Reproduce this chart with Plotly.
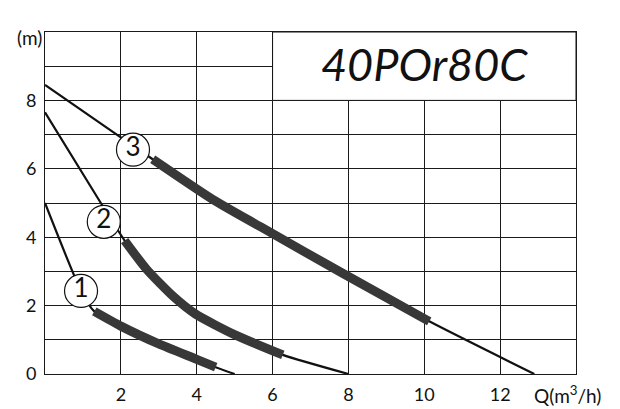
import plotly.graph_objects as go

# ---- data ----
curve1_x = [0, 0.95, 1.3, 2.0, 3.0, 4.0, 4.5, 5.0]
curve1_y = [5.0, 2.43, 1.83, 1.4, 0.88, 0.43, 0.2, 0.0]
curve1_thick = (2, 6)

curve2_x = [0, 1.5, 2.1, 2.68, 3.39, 3.97, 5.04, 6.27, 8.0]
curve2_y = [7.65, 4.95, 3.9, 3.06, 2.26, 1.75, 1.13, 0.56, 0.0]
curve2_thick = (2, 7)

curve3_x = [0, 1.96, 2.84, 4.43, 5.69, 7.87, 10.13, 12.9]
curve3_y = [8.45, 6.95, 6.28, 5.1, 4.3, 2.93, 1.54, 0.0]
curve3_thick = (2, 6)

label_names = ["1", "2", "3"]
label_x = [0.95, 1.55, 2.32]
label_y = [2.43, 4.45, 6.56]

x_tickvals = [0, 2, 4, 6, 8, 10, 12, 14]
x_ticktext = [" ", "2", "4", "6", "8", "10", "12", " "]
y_tickvals = [0, 1, 2, 3, 4, 5, 6, 7, 8, 9, 10]
y_ticktext = ["0", " ", "2", " ", "4", " ", "6", " ", "8", " ", " "]

title_text = "40POr80C"
font_family = "Lato, 'DejaVu Sans', sans-serif"

fig = go.Figure()

curves = [(curve1_x, curve1_y, curve1_thick),
          (curve2_x, curve2_y, curve2_thick),
          (curve3_x, curve3_y, curve3_thick)]

for cx, cy, (i0, i1) in curves:
    fig.add_trace(go.Scatter(x=cx, y=cy, mode="lines",
                             line=dict(color="#111111", width=2.2, shape="spline", smoothing=0.6),
                             hoverinfo="skip", showlegend=False))
    fig.add_trace(go.Scatter(x=cx[i0:i1 + 1], y=cy[i0:i1 + 1], mode="lines",
                             line=dict(color="#383838", width=9, shape="spline", smoothing=0.6),
                             hoverinfo="skip", showlegend=False))

fig.add_trace(go.Scatter(x=label_x, y=label_y, mode="markers+text", text=label_names,
                         textposition="middle center",
                         textfont=dict(size=26, color="#111111", family=font_family),
                         marker=dict(size=33, color="white", line=dict(color="#111111", width=1.2)),
                         hoverinfo="skip", showlegend=False))

# white title box covering the grid
fig.add_shape(type="rect", x0=6, x1=14, y0=8, y1=10, xref="x", yref="y",
              fillcolor="white", line=dict(color="#111111", width=1), layer="between")

fig.add_annotation(x=10, y=9.05, xref="x", yref="y", text="<i>" + title_text + "</i>",
                   showarrow=False, font=dict(size=45, color="#111111", family=font_family))

fig.add_annotation(x=0, y=9.85, xref="paper", yref="y", text="(m)", showarrow=False,
                   xanchor="right", yanchor="middle", xshift=-1,
                   font=dict(size=19, color="#111111", family=font_family))

fig.add_annotation(x=1.0, y=0, xref="paper", yref="paper", text="Q(m<sup>3</sup>/h)",
                   showarrow=False, xanchor="left", yanchor="top", xshift=-44, yshift=-6,
                   font=dict(size=19, color="#111111", family=font_family))

fig.update_xaxes(range=[0, 14], tickvals=x_tickvals, ticktext=x_ticktext,
                 showgrid=True, gridcolor="#1a1a1a", gridwidth=1,
                 zeroline=False, showline=True, linecolor="#1a1a1a", linewidth=1, mirror=True,
                 ticks="outside", ticklen=4, tickcolor="rgba(0,0,0,0)",
                 tickfont=dict(size=18, color="#111111", family=font_family))
fig.update_yaxes(range=[0, 10], tickvals=y_tickvals, ticktext=y_ticktext,
                 showgrid=True, gridcolor="#1a1a1a", gridwidth=1,
                 zeroline=False, showline=True, linecolor="#1a1a1a", linewidth=1, mirror=True,
                 ticks="outside", ticklen=4, tickcolor="rgba(0,0,0,0)",
                 tickfont=dict(size=18, color="#111111", family=font_family))

fig.update_layout(width=620, height=409, margin=dict(l=37, r=52, t=24, b=39),
                  paper_bgcolor="white", plot_bgcolor="white", showlegend=False)

fig.write_html("out.html")
